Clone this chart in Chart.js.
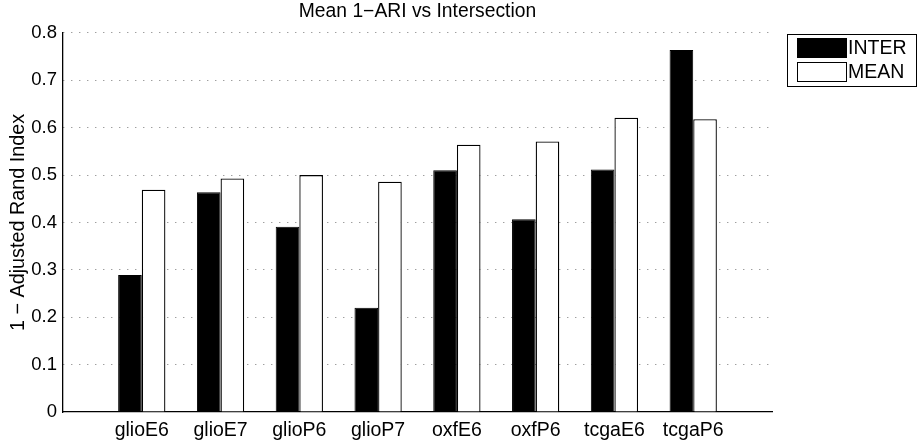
<!DOCTYPE html>
<html>
<head>
<meta charset="utf-8">
<script src="https://cdn.jsdelivr.net/npm/chart.js@4/dist/chart.umd.min.js"></script>
<style>
html,body{margin:0;padding:0;background:#fff;}
#wrap{width:917px;height:443px;position:relative;}
</style>
</head>
<body>
<div id="wrap"><canvas id="c" width="917" height="443"></canvas></div>
<script>
const categories = ['glioE6','glioE7','glioP6','glioP7','oxfE6','oxfP6','tcgaE6','tcgaP6'];
const interValues = [0.289, 0.464, 0.391, 0.220, 0.510, 0.407, 0.512, 0.764];
const meanValues  = [0.469, 0.493, 0.500, 0.486, 0.564, 0.571, 0.621, 0.618];
const seriesNames = ['INTER', 'MEAN'];
const yTicks = [0, 0.1, 0.2, 0.3, 0.4, 0.5, 0.6, 0.7, 0.8];
const titleText = 'Mean 1\u2212ARI vs Intersection';
const yTitle = '1 \u2212 Adjusted Rand Index';

// pad categories with an empty slot at each end (axis runs 0..9)
const labels = [''].concat(categories, ['']);
const pad = arr => [null].concat(arr, [null]);

const FONT = 'Liberation Sans, Arial, Helvetica, sans-serif';

const legendBox = {
  id: 'legendBox',
  afterDraw(chart) {
    const ctx = chart.ctx;
    const ca = chart.chartArea;
    const x0 = ca.right + 15, y0 = 34, w = 129, h = 52;
    ctx.save();
    ctx.fillStyle = '#fff';
    ctx.fillRect(x0, y0, w, h);
    ctx.strokeStyle = '#000';
    ctx.lineWidth = 1;
    ctx.strokeRect(x0 + 0.5, y0 + 0.5, w, h);
    ctx.font = '19.5px ' + FONT;
    ctx.textBaseline = 'middle';
    ctx.textAlign = 'left';
    chart.data.datasets.forEach((ds, i) => {
      const sy = y0 + 4.5 + i * 24;
      ctx.fillStyle = ds.backgroundColor;
      ctx.fillRect(x0 + 10.5, sy, 49, 19);
      ctx.strokeStyle = '#000';
      ctx.strokeRect(x0 + 10.5, sy, 49, 19);
      ctx.fillStyle = '#000';
      ctx.fillText(ds.label, x0 + 61, sy + 10.5);
    });
    ctx.restore();
  }
};

new Chart(document.getElementById('c'), {
  type: 'bar',
  data: {
    labels: labels,
    datasets: [
      { label: seriesNames[0], data: pad(interValues), backgroundColor: '#000', borderColor: '#000', borderWidth: 1 },
      { label: seriesNames[1], data: pad(meanValues), backgroundColor: '#fff', borderColor: '#000', borderWidth: 1.3 }
    ]
  },
  options: {
    responsive: false,
    animation: false,
    devicePixelRatio: 1,
    layout: { padding: { left: 0, right: 145, top: 0, bottom: 0 } },
    datasets: { bar: { categoryPercentage: 0.6, barPercentage: 1 } },
    plugins: {
      legend: { display: false },
      tooltip: { enabled: false },
      title: {
        display: true,
        text: titleText,
        fullSize: false,
        color: '#000',
        font: { family: FONT, size: 19.3, weight: 'normal' },
        padding: { top: 0, bottom: 9.8 }
      }
    },
    scales: {
      x: {
        type: 'category',
        offset: false,
        grid: { display: false, drawTicks: false },
        border: { display: true, color: '#000', width: 1.3 },
        ticks: { color: '#000', font: { family: FONT, size: 19.5 }, padding: 7, maxRotation: 0, autoSkip: false },
        afterFit(s) { s.height = 31; }
      },
      y: {
        min: 0, max: 0.8,
        afterBuildTicks(s) { s.ticks = yTicks.map(v => ({ value: v })); },
        grid: {
          drawTicks: false,
          color: ctx => (ctx.tick && ctx.tick.value === 0) ? 'rgba(0,0,0,0)' : '#777',
          lineWidth: 1
        },
        border: { display: true, color: '#000', width: 1.3, dash: [1, 7] },
        ticks: {
          color: '#000', font: { family: FONT, size: 18.5 }, padding: 6,
          callback: v => (v === 0 ? '0' : Number(v).toFixed(1))
        },
        title: {
          display: true, text: yTitle, color: '#000',
          font: { family: FONT, size: 19.8 },
          padding: { top: 7, bottom: 0 }
        },
        afterFit(s) { s.width = 63; }
      }
    }
  },
  plugins: [legendBox]
});
</script>
</body>
</html>
